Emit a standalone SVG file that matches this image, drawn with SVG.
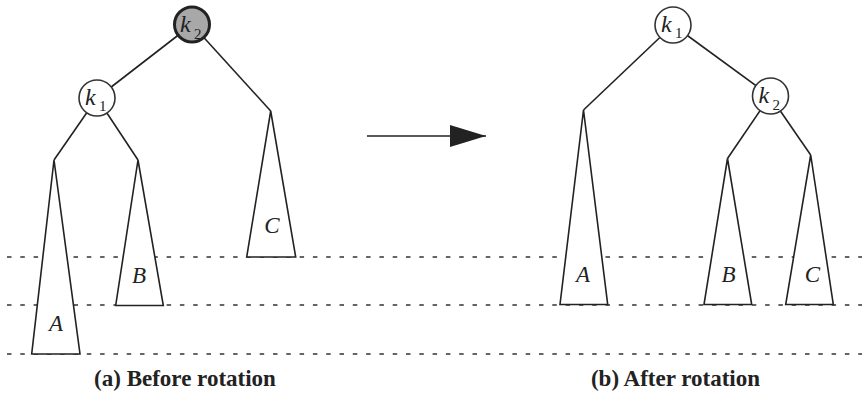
<svg xmlns="http://www.w3.org/2000/svg" width="867" height="396" viewBox="0 0 867 396">
<defs>
<style>
.dash{stroke:#333;stroke-width:1.3;stroke-dasharray:4.5 8.8;fill:none}
.edge{stroke:#222;stroke-width:1.6;fill:none}
.tri{stroke:#222;stroke-width:1.6;fill:#fff;stroke-linejoin:miter}
.node{stroke:#333;stroke-width:1.6;fill:#fff}
.hot{stroke:#222;stroke-width:3;fill:#a8a8a8}
text{font-family:'Liberation Serif','Times New Roman',Times,serif;fill:#222}
.k{font-style:italic;font-size:24px}
.sub{font-size:15px}
.lbl{font-style:italic;font-size:23px;text-anchor:middle}
.cap{font-weight:bold;font-size:23px;text-anchor:middle}
</style>
<marker id="ah" markerUnits="userSpaceOnUse" markerWidth="40" markerHeight="30" refX="36" refY="11" orient="auto">
<path d="M0,0 L36,11 L0,22 Z" fill="#222"/>
</marker>
</defs>
<g id="levels">
<line class="dash" x1="7" y1="257" x2="862" y2="257"/>
<line class="dash" x1="7" y1="305" x2="862" y2="305"/>
<line class="dash" x1="7" y1="354" x2="862" y2="354"/>
</g>
<g id="connectors">
<line class="edge" x1="192" y1="24.5" x2="97" y2="98"/>
<line class="edge" x1="192" y1="24.5" x2="270.7" y2="111"/>
<line class="edge" x1="97" y1="98" x2="54" y2="160"/>
<line class="edge" x1="97" y1="98" x2="138" y2="160"/>
<line class="edge" x1="673" y1="25" x2="583.5" y2="110"/>
<line class="edge" x1="673" y1="25" x2="770" y2="96"/>
<line class="edge" x1="770" y1="96" x2="727.5" y2="158.5"/>
<line class="edge" x1="770" y1="96" x2="810.7" y2="155"/>
<line class="edge" x1="367" y1="136" x2="486" y2="136" stroke-width="2.4" marker-end="url(#ah)"/>
</g>
<g id="tA1"><polygon class="tri" points="54,160 31.7,354 80,354"/><text class="lbl" x="56" y="331" font-family="Liberation Serif, serif">A</text></g>
<g id="tB1"><polygon class="tri" points="138,160 115.7,305.5 163.3,305.5"/><text class="lbl" x="139" y="282.5" font-family="Liberation Serif, serif">B</text></g>
<g id="tC1"><polygon class="tri" points="270.7,111 246.7,257 295.7,257"/><text class="lbl" x="272" y="233" font-family="Liberation Serif, serif">C</text></g>
<g id="tA2"><polygon class="tri" points="583.5,110 560,304.5 607.7,304.5"/><text class="lbl" x="583" y="282" font-family="Liberation Serif, serif">A</text></g>
<g id="tB2"><polygon class="tri" points="727.5,158.5 704,304.5 751.7,304.5"/><text class="lbl" x="728.5" y="282" font-family="Liberation Serif, serif">B</text></g>
<g id="tC2"><polygon class="tri" points="810.7,155 785.7,304.5 833.3,304.5"/><text class="lbl" x="812.5" y="282" font-family="Liberation Serif, serif">C</text></g>
<g id="k2a"><circle class="hot" cx="192" cy="24.5" r="17.5"/><text class="k" x="180" y="32" font-family="Liberation Serif, serif">k</text><text class="sub" x="194" y="38.5" font-family="Liberation Serif, serif">2</text></g>
<g id="k1a"><circle class="node" cx="97" cy="98" r="18"/><text class="k" x="85" y="105" font-family="Liberation Serif, serif">k</text><text class="sub" x="99" y="111" font-family="Liberation Serif, serif">1</text></g>
<g id="k1b"><circle class="node" cx="673" cy="25" r="18"/><text class="k" x="661" y="32" font-family="Liberation Serif, serif">k</text><text class="sub" x="675" y="38" font-family="Liberation Serif, serif">1</text></g>
<g id="k2b"><circle class="node" cx="770.5" cy="96" r="18"/><text class="k" x="758.5" y="103" font-family="Liberation Serif, serif">k</text><text class="sub" x="772.5" y="109.5" font-family="Liberation Serif, serif">2</text></g>
<text class="cap" x="185" y="386" font-family="Liberation Serif, serif">(a) Before rotation</text>
<text class="cap" x="675.5" y="386" font-family="Liberation Serif, serif">(b) After rotation</text>
</svg>
